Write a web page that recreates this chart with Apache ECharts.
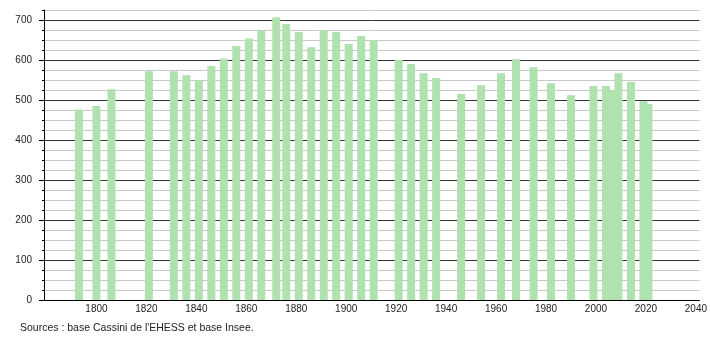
<!DOCTYPE html>
<html>
<head>
<meta charset="utf-8">
<script src="https://cdn.jsdelivr.net/npm/echarts@6/dist/echarts.min.js"></script>
<style>
html,body{margin:0;padding:0;background:#fff;}
#chart{width:710px;height:340px;}
</style>
</head>
<body>
<div id="chart"></div>
<script>
// Census years and population
var years = [1793, 1800, 1806, 1821, 1831, 1836, 1841, 1846, 1851, 1856, 1861, 1866, 1872, 1876, 1881, 1886, 1891, 1896, 1901, 1906, 1911, 1921, 1926, 1931, 1936, 1946, 1954, 1962, 1968, 1975, 1982, 1990, 1999, 2004, 2007, 2009, 2014, 2021, 2019];
var population = [476, 485, 527, 572, 572, 562, 550, 585, 604, 635, 654, 674, 707, 690, 670, 632, 674, 670, 640, 660, 649, 600, 590, 567, 555, 515, 537, 567, 602, 582, 542, 512, 535, 535, 525, 567, 545, 490, 497];
var xTickLabels = [1800, 1820, 1840, 1860, 1880, 1900, 1920, 1940, 1960, 1980, 2000, 2020, 2040];
var yTickLabels = [0, 100, 200, 300, 400, 500, 600, 700];
var sourceText = "Sources : base Cassini de l'EHESS et base Insee.";

var font = 'Liberation Sans, Arial, sans-serif';
var seriesData = years.map(function (y, i) { return [y, population[i]]; });

var chart = echarts.init(document.getElementById('chart'), null, {renderer: 'canvas'});
chart.setOption({
  animation: false,
  backgroundColor: '#ffffff',
  grid: {left: 44, right: 10, top: 10, bottom: 40, containLabel: false},
  xAxis: {
    type: 'value',
    min: 1779,
    max: 2041.4,
    axisLine: {show: true, onZero: false, lineStyle: {color: '#000', width: 1}},
    axisTick: {show: false},
    splitLine: {show: false},
    axisLabel: {
      customValues: xTickLabels,
      color: '#222',
      fontFamily: font,
      fontSize: 10,
      margin: 4,
      formatter: function (v) { return String(v); }
    }
  },
  yAxis: [{
    type: 'value',
    min: 0,
    max: 725,
    interval: 25,
    axisLine: {show: true, lineStyle: {color: '#000', width: 1}},
    axisTick: {show: true, length: 2, lineStyle: {color: '#000'}},
    splitLine: {show: true, lineStyle: {color: ['#333333', '#c8c8c8', '#c8c8c8', '#c8c8c8'], width: 1}},
    axisLabel: {
      customValues: yTickLabels,
      color: '#222',
      fontFamily: font,
      fontSize: 10,
      margin: 12
    }
  }, {
    type: 'value',
    min: 0,
    max: 725,
    position: 'left',
    axisLine: {show: false},
    axisTick: {show: true, length: 5, customValues: yTickLabels, lineStyle: {color: '#000'}},
    splitLine: {show: false},
    axisLabel: {show: false}
  }],
  series: [{
    type: 'bar',
    yAxisIndex: 0,
    data: seriesData,
    barWidth: 8,
    itemStyle: {color: '#afe2af'},
    z: 1
  }],
  graphic: [{
    type: 'text',
    left: 20,
    top: 323,
    style: {text: sourceText, fill: '#222', font: '10.5px ' + font}
  }]
});
</script>
</body>
</html>
